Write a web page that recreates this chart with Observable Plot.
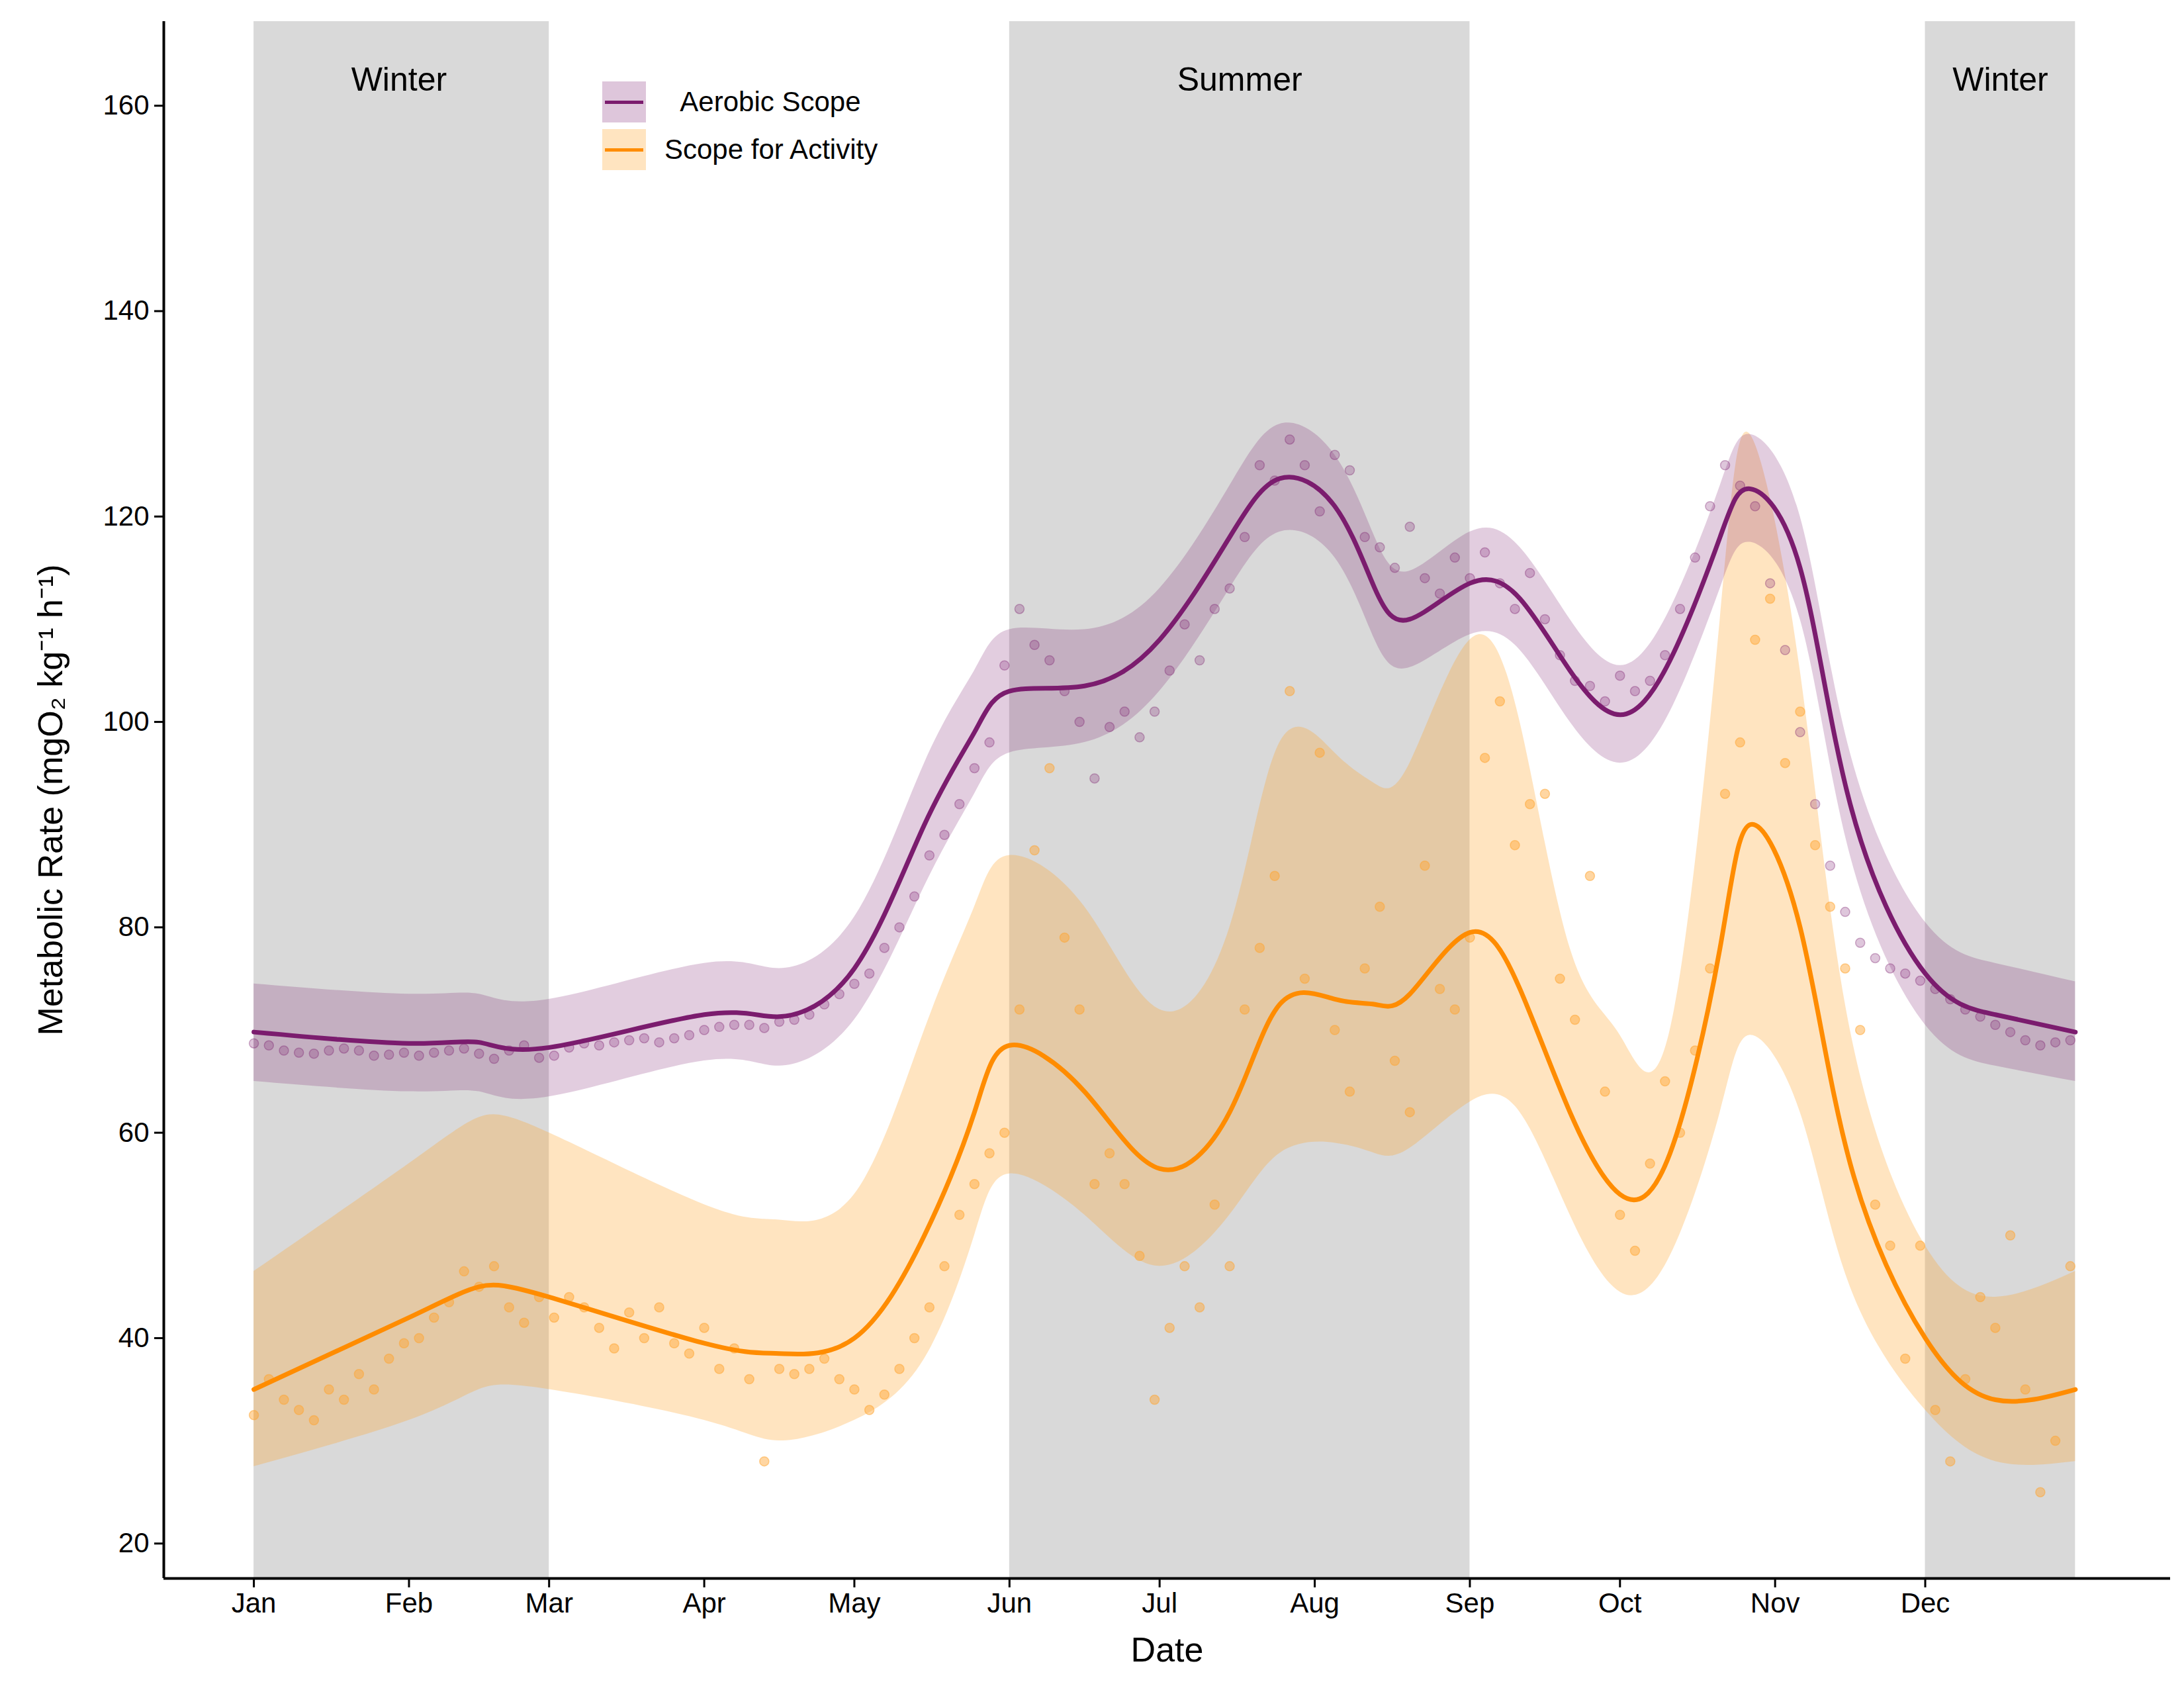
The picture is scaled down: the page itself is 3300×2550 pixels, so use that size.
<!DOCTYPE html>
<html>
<head>
<meta charset="utf-8">
<script src="https://cdn.jsdelivr.net/npm/d3@7"></script>
<script src="https://cdn.jsdelivr.net/npm/@observablehq/plot@0.6"></script>
<style>
  body { margin: 0; background: #fff; font-family: "Liberation Sans", Arial, sans-serif; }
  #chart { position: relative; width: 3300px; height: 2550px; }
  .leg { position: absolute; left: 910px; top: 118px; font-size: 42px; color: #000; }
  .leg div { display: flex; align-items: center; height: 72px; }
  .sw { width: 66px; height: 62px; margin-right: 28px; position: relative; }
  .sw i { position: absolute; left: 4px; right: 4px; top: 29px; height: 5px; }
</style>
</head>
<body>
<div id="chart"></div>
<script>
// smooth fits: day of year, fitted value, band
const fitDays  = [0, 31, 45, 59, 90, 105, 120, 134, 144, 151, 166, 181, 195, 205, 216, 224, 231, 243, 253, 263, 273, 283, 293, 299, 309, 319, 334, 348, 364];
const aerFit   = [69.8, 68.7, 68.8, 68.3, 71.5, 71.3, 76, 90, 99, 103, 103.5, 108, 118, 123.7, 121, 113, 110, 113.5, 112, 105, 100.7, 106, 118, 122.7, 115, 92, 75.5, 71.5, 69.8];
const aerLo    = [65, 64, 64, 63.5, 67, 66.5, 71, 84, 93, 97, 98, 103, 113, 118.5, 116, 108, 105.3, 108.5, 107, 100, 96, 101, 113, 117.5, 110, 87, 70.5, 66.5, 65];
const aerHi    = [74.5, 73.5, 73.5, 73, 76.5, 76, 81, 96, 105, 109, 109, 113, 123, 129, 126, 118, 114.7, 118.5, 117, 110, 105.5, 111, 123, 128, 120, 97, 80.5, 76.5, 74.7];
const actFit   = [35, 42, 45, 44, 39.5, 38.5, 40, 50, 62, 68.5, 64, 56.5, 62, 72.5, 73, 72.5, 73.5, 79.5, 74, 62, 54, 58, 78, 90, 80, 57, 40, 34, 35];
const actLo    = [27.5, 32, 35, 35, 32, 30, 32, 38, 50, 56, 52, 47, 52, 58, 59, 58, 58.5, 63, 62, 52, 44.5, 48, 62, 69.5, 62, 45, 33, 28, 28];
const actHi    = [46.5, 57, 61.5, 60, 53, 51.5, 54, 70, 82, 87, 82, 72, 80, 98, 97, 94, 96, 108, 100, 78, 69.5, 70, 110, 128, 105, 70, 49, 44, 46.5];

// observations every third day from 1 January
const obsStep = 3;
const aerObs = [68.7,68.5,68,67.8,67.7,68,68.2,68,67.5,67.6,67.8,
  67.5,67.8,68,68.2,67.7,67.2,68,68.5,67.3,
  67.5,68.3,68.7,68.5,68.8,69,69.2,68.8,69.2,69.5,
  70,70.3,70.5,70.5,70.2,70.8,71,71.5,72.5,73.5,
  74.5,75.5,78,80,83,87,89,92,95.5,98,
  105.5,111,107.5,106,103,100,94.5,99.5,101,98.5,
  101,105,109.5,106,111,113,118,125,123.5,127.5,
  125,120.5,126,124.5,118,117,115,119,114,112.5,
  116,114,116.5,113.5,111,114.5,110,106.5,104,103.5,
  102,104.5,103,104,106.5,111,116,121,125,123,
  121,113.5,107,99,92,86,81.5,78.5,77,76,
  75.5,74.8,74,73,72,71.3,70.5,69.8,69,68.5,68.8,69];
const actObs = [32.5,36,34,33,32,35,34,36.5,35,38,39.5,
  40,42,43.5,46.5,45,47,43,41.5,44,
  42,44,43,41,39,42.5,40,43,39.5,38.5,
  41,37,39,36,28,37,36.5,37,38,36,
  35,33,34.5,37,40,43,47,52,55,58,
  60,72,87.5,95.5,79,72,55,58,55,48,
  34,41,47,43,53,47,72,78,85,103,
  75,97,70,64,76,82,67,62,86,74,
  72,79,96.5,102,88,92,93,75,71,85,
  64,52,48.5,57,65,60,68,76,93,98,
  108,112,96,101,88,82,76,70,53,49,
  38,49,33,28,36,44,41,50,35,25,30,47];

const seasons = [
  {name: "Winter", from: 0, to: 59},
  {name: "Summer", from: 151, to: 243},
  {name: "Winter", from: 334, to: 364}
];
const monthStarts = [0, 31, 59, 90, 120, 151, 181, 212, 243, 273, 304, 334];
const yTicks = [20, 40, 60, 80, 100, 120, 140, 160];

const day = (n) => new Date(Date.UTC(2021, 0, 1 + n));
const fit = fitDays.map((d, i) => ({date: day(d), aer: aerFit[i], aerLo: aerLo[i], aerHi: aerHi[i], act: actFit[i], actLo: actLo[i], actHi: actHi[i]}));
const obs = aerObs.map((v, i) => ({date: day(i * obsStep), aer: v, act: actObs[i]}));
const shade = seasons.map((s) => ({name: s.name, x1: day(s.from), x2: day(s.to), mid: day((s.from + s.to) / 2)}));

const PURPLE = "#7b1c6e", ORANGE = "#ff8c00";
const X0 = -18.8, X1 = 383.7;

const svg = Plot.plot({
  width: 3300, height: 2550,
  marginLeft: 247, marginRight: 21, marginTop: 32, marginBottom: 166,
  style: {fontFamily: "Liberation Sans, Arial, sans-serif", fontSize: "42px", color: "#000", background: "#fff"},
  x: {type: "utc", domain: [day(X0), day(X1)]},
  y: {domain: [16.6, 168.2]},
  marks: [
    Plot.rectX(shade, {x1: "x1", x2: "x2", y1: 16.6, y2: 168.2, fill: "#d9d9d9"}),
    Plot.text(shade, {x: "mid", y: 162.5, text: "name", fontSize: 50, fill: "#000"}),
    Plot.areaY(fit, {x: "date", y1: "actLo", y2: "actHi", fill: "#ffa530", fillOpacity: 0.3, curve: "natural"}),
    Plot.areaY(fit, {x: "date", y1: "aerLo", y2: "aerHi", fill: PURPLE, fillOpacity: 0.22, curve: "natural"}),
    Plot.dot(obs, {x: "date", y: "act", r: 7, fill: "#ffa530", fillOpacity: 0.45, stroke: "#ffa530", strokeOpacity: 0.5, strokeWidth: 1.5}),
    Plot.dot(obs, {x: "date", y: "aer", r: 7, fill: PURPLE, fillOpacity: 0.25, stroke: PURPLE, strokeOpacity: 0.35, strokeWidth: 1.5}),
    Plot.line(fit, {x: "date", y: "act", stroke: ORANGE, strokeWidth: 7, curve: "natural"}),
    Plot.line(fit, {x: "date", y: "aer", stroke: PURPLE, strokeWidth: 7, curve: "natural"}),
    Plot.axisX(monthStarts.map(day), {tickFormat: d3.utcFormat("%b"), tickSize: 14, tickPadding: 8, fontSize: 42, label: "Date", labelAnchor: "center", labelArrow: "none", labelOffset: 125, strokeWidth: 3}),
    Plot.axisY(yTicks, {tickSize: 14, tickPadding: 8, fontSize: 42, label: "Metabolic Rate (mgO₂ kg⁻¹ h⁻¹)", labelAnchor: "center", labelArrow: "none", labelOffset: 190, strokeWidth: 3}),
    Plot.ruleX([day(X0)], {stroke: "#000", strokeWidth: 4}),
    Plot.ruleY([16.6], {stroke: "#000", strokeWidth: 4})
  ]
});
svg.querySelectorAll("[aria-label='x-axis label'] text, [aria-label='y-axis label'] text").forEach((t) => t.style.fontSize = "52px");

const host = document.getElementById("chart");
host.appendChild(svg);
const leg = document.createElement("div");
leg.className = "leg";
leg.innerHTML =
  `<div><span class="sw" style="background:rgba(123,28,110,0.25)"><i style="background:${PURPLE}"></i></span>&nbsp;&nbsp;Aerobic Scope</div>` +
  `<div><span class="sw" style="background:rgba(255,165,48,0.3)"><i style="background:${ORANGE}"></i></span>Scope for Activity</div>`;
host.appendChild(leg);
</script>
</body>
</html>
